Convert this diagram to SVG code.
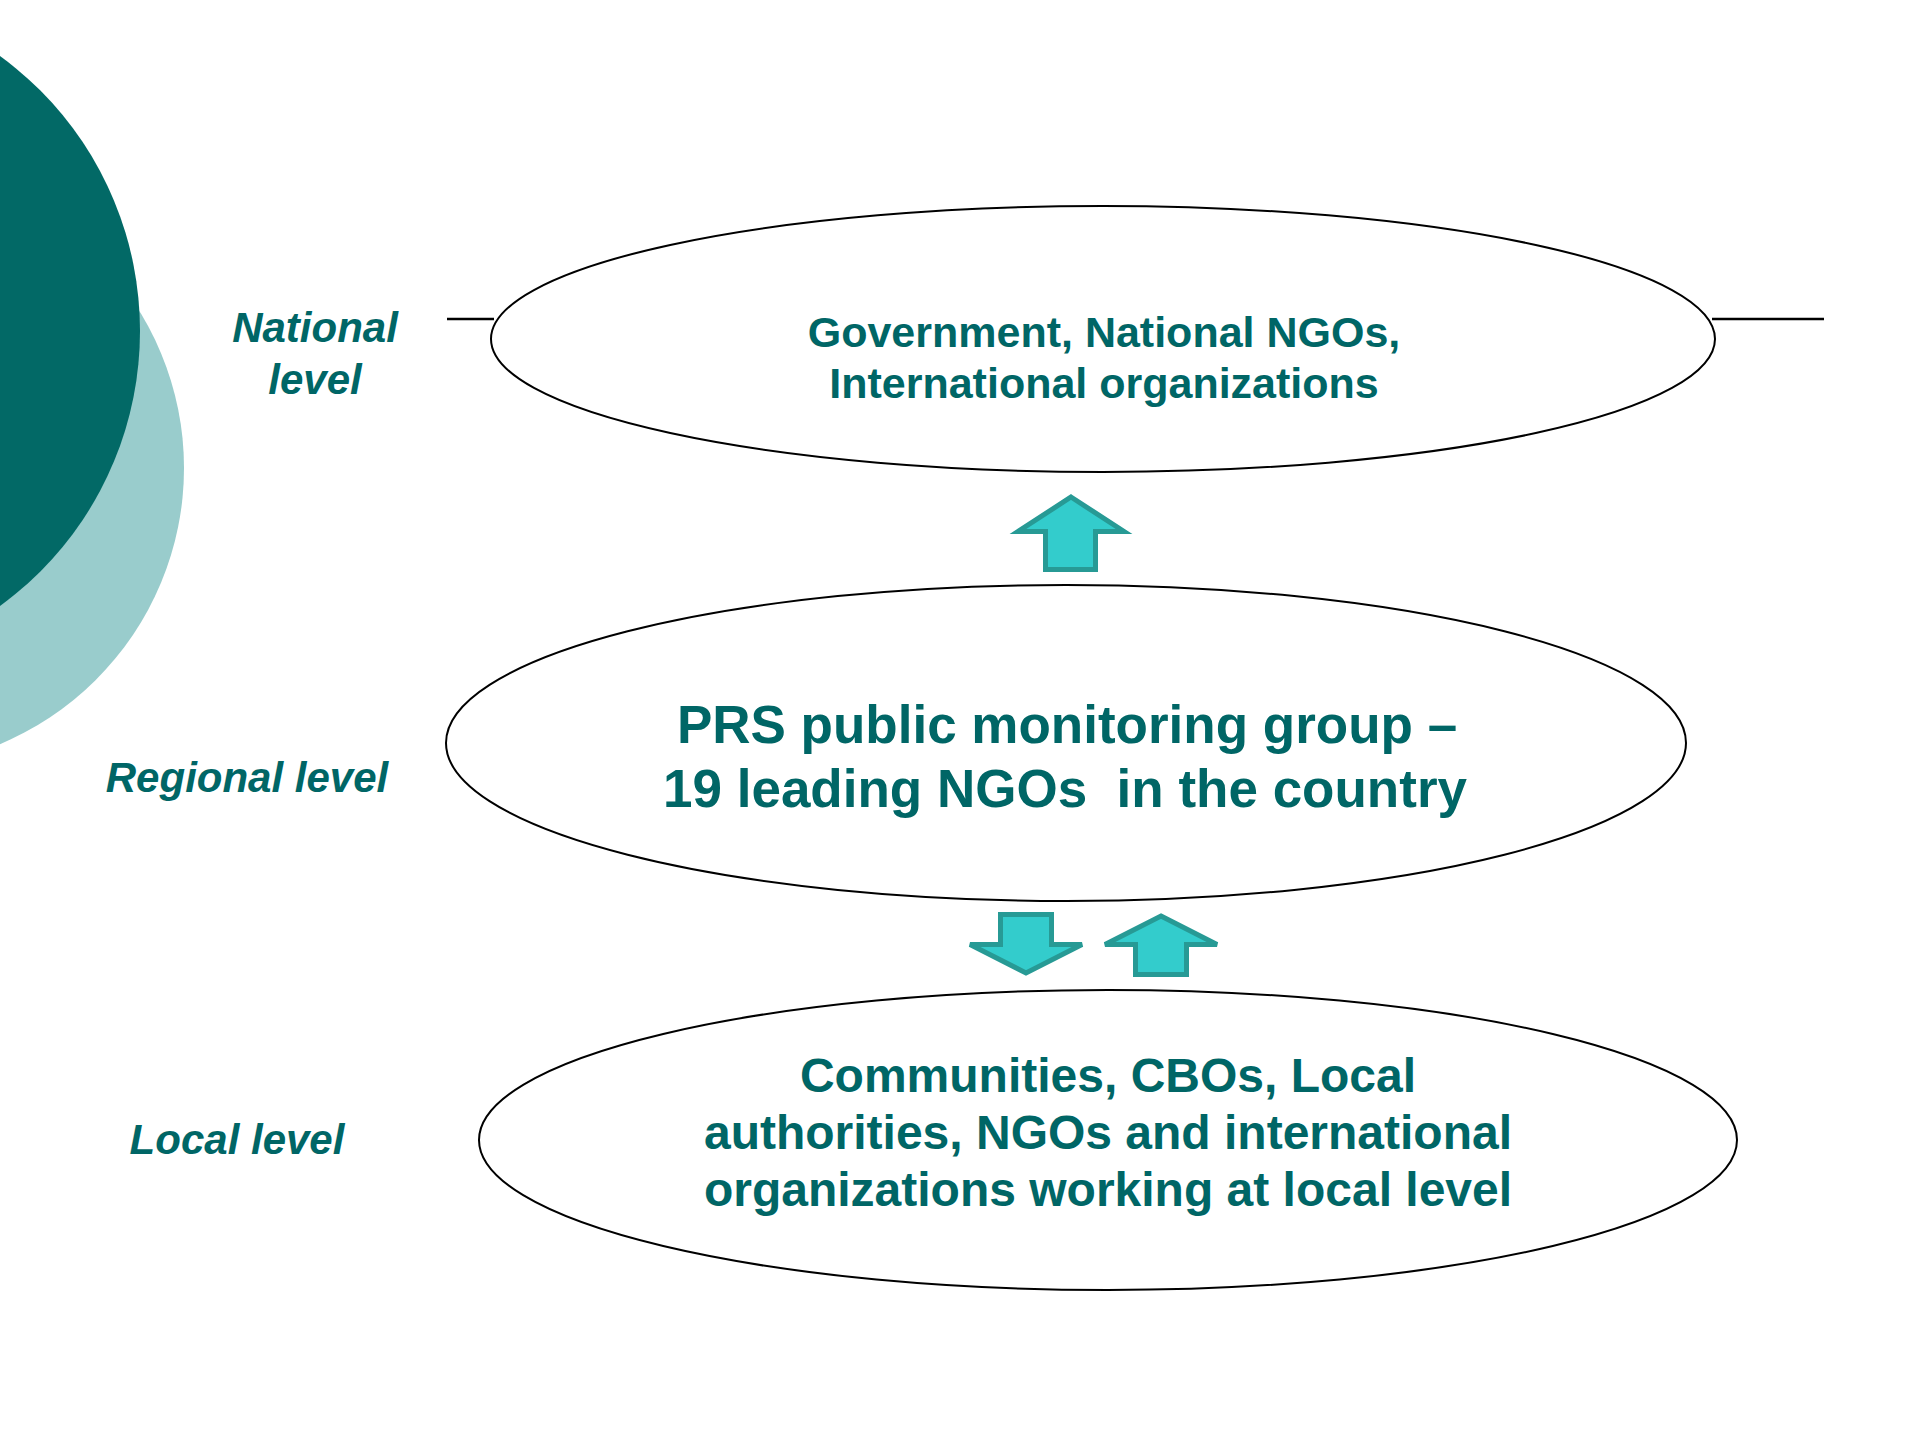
<svg xmlns="http://www.w3.org/2000/svg" width="1920" height="1440" viewBox="0 0 1920 1440">
<style>
.bg{fill:#ffffff}
.oval{fill:#ffffff;stroke:#000000;stroke-width:2}
.t{font-family:"Liberation Sans",Arial,sans-serif;font-weight:bold;fill:#006666;text-anchor:middle}
.lbl{font-family:"Liberation Sans",Arial,sans-serif;font-weight:bold;font-style:italic;fill:#006666;text-anchor:middle;font-size:42px}
.arrow{fill:#33CCCC;stroke:#279A95;stroke-width:5;stroke-linejoin:miter}
.rule{stroke:#000000;stroke-width:2.5}
</style>
<rect class="bg" x="0" y="0" width="1920" height="1440"/>
<g id="decor">
<ellipse cx="-118" cy="468" rx="302" ry="300" fill="#99CCCC"/>
<circle cx="-200" cy="331" r="340" fill="#026966"/>
</g>
<g id="labels">
<text class="lbl" x="315" y="342">National</text>
<text class="lbl" x="315" y="394">level</text>
<text class="lbl" x="247" y="792">Regional level</text>
<text class="lbl" x="237" y="1154">Local level</text>
</g>
<g id="connectors">
<line class="rule" x1="447" y1="319" x2="494" y2="319"/>
<line class="rule" x1="1712" y1="319" x2="1824" y2="319"/>
<path class="arrow" d="M1071,497 L1124,531.5 L1095.5,531.5 L1095.5,569.5 L1045.5,569.5 L1045.5,531.5 L1018,531.5 Z"/>
<path class="arrow" d="M1000.5,914.5 L1051.5,914.5 L1051.5,944.5 L1082,944.5 L1026,973 L970,944.5 L1000.5,944.5 Z"/>
<path class="arrow" d="M1161,916 L1217,944.5 L1186.5,944.5 L1186.5,974.5 L1135.5,974.5 L1135.5,944.5 L1105,944.5 Z"/>
</g>
<g id="national">
<ellipse class="oval" cx="1103" cy="339" rx="612" ry="133"/>
<text class="t" font-size="43" x="1104" y="347">Government, National NGOs,</text>
<text class="t" font-size="43" x="1104" y="398">International organizations</text>
</g>
<g id="regional">
<ellipse class="oval" cx="1066" cy="743" rx="620" ry="158"/>
<text class="t" font-size="53" x="1067" y="743">PRS public monitoring group –</text>
<text class="t" font-size="53" x="1065" y="807" xml:space="preserve">19 leading NGOs  in the country</text>
</g>
<g id="local">
<ellipse class="oval" cx="1108" cy="1140" rx="629" ry="150"/>
<text class="t" font-size="48" x="1108" y="1092">Communities, CBOs, Local</text>
<text class="t" font-size="48" x="1108" y="1149">authorities, NGOs and international</text>
<text class="t" font-size="48" x="1108" y="1206">organizations working at local level</text>
</g>
</svg>
